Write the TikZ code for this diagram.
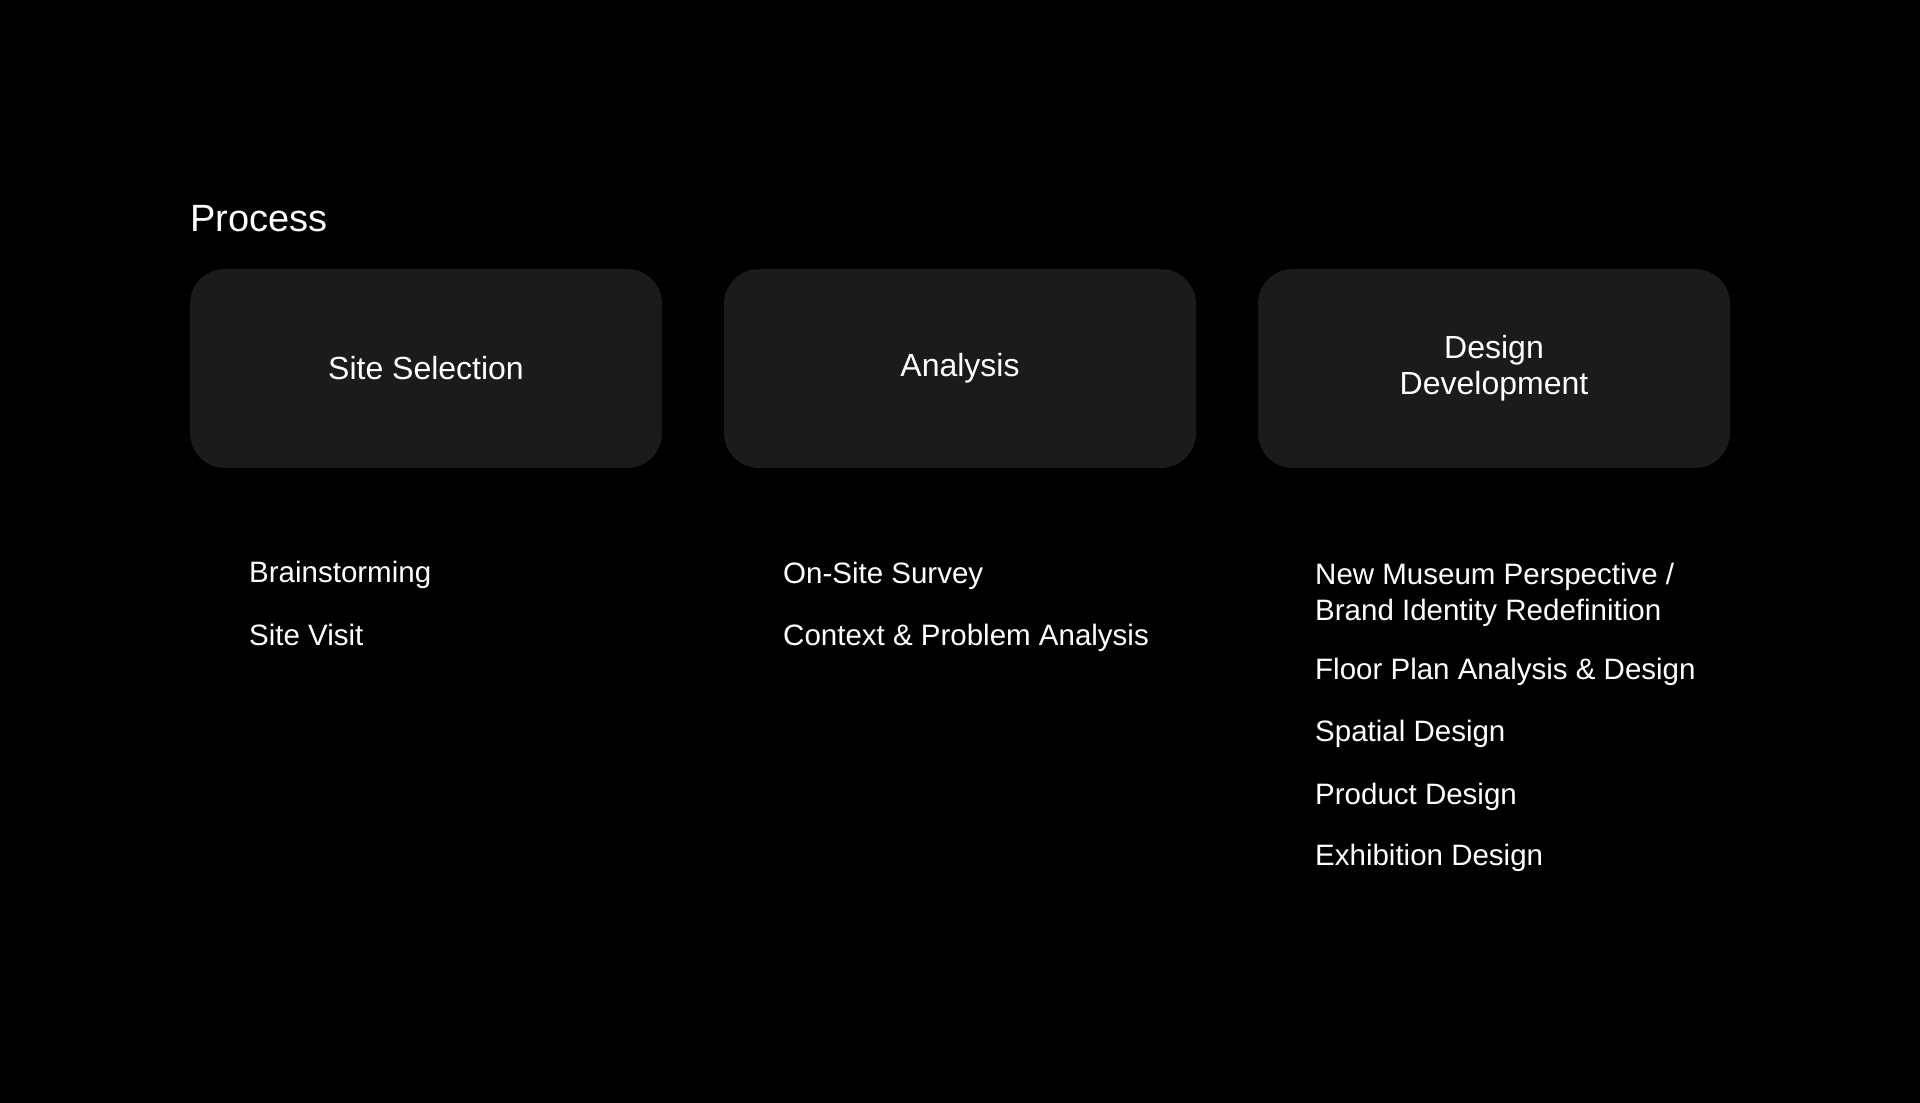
\documentclass[tikz,border=0pt]{standalone}
\usepackage{fontspec}
\setmainfont{Liberation Sans}
\definecolor{boxgray}{HTML}{1B1B1B}
\tikzset{
	stagebox/.style={fill=boxgray, draw=none, rounded corners=35pt, minimum width=472pt, minimum height=199pt, text=white, align=center, font=\fontsize{32}{36}\selectfont},
	item/.style={anchor=base west, text=white, inner sep=0pt, align=left, font=\fontsize{29.5}{36}\selectfont},
	heading/.style={anchor=base west, text=white, inner sep=0pt, font=\fontsize{38}{40}\selectfont}
}
\begin{document}
\begin{tikzpicture}[x=1pt, y=-1pt]

					\fill[black] (0,0) rectangle (1920,1103);

					\node[heading] (process) at (190,231.7) {Process};

					\node[stagebox] (site) at (426,368.5) {Site Selection};
					\node[stagebox] (analysis) at (960,368.5) {Analysis};
					\node[stagebox] (design) at (1494,368.5) {Design\\Development};

					\node[item] (brain) at (249,582.7) {Brainstorming};
					\node[item] (visit) at (249,645) {Site Visit};

					\node[item] (survey) at (783,583) {On-Site Survey};
					\node[item] (context) at (783,645.5) {Context \& Problem Analysis};

					\node[item] (museum) at (1315,620) {New Museum Perspective /\\Brand Identity Redefinition};
					\node[item] (floor) at (1315,679.3) {Floor Plan Analysis \& Design};
					\node[item] (spatial) at (1315,741.7) {Spatial Design};
					\node[item] (product) at (1315,804) {Product Design};
					\node[item] (exhibit) at (1315,865) {Exhibition Design};

				\end{tikzpicture}
\end{document}
